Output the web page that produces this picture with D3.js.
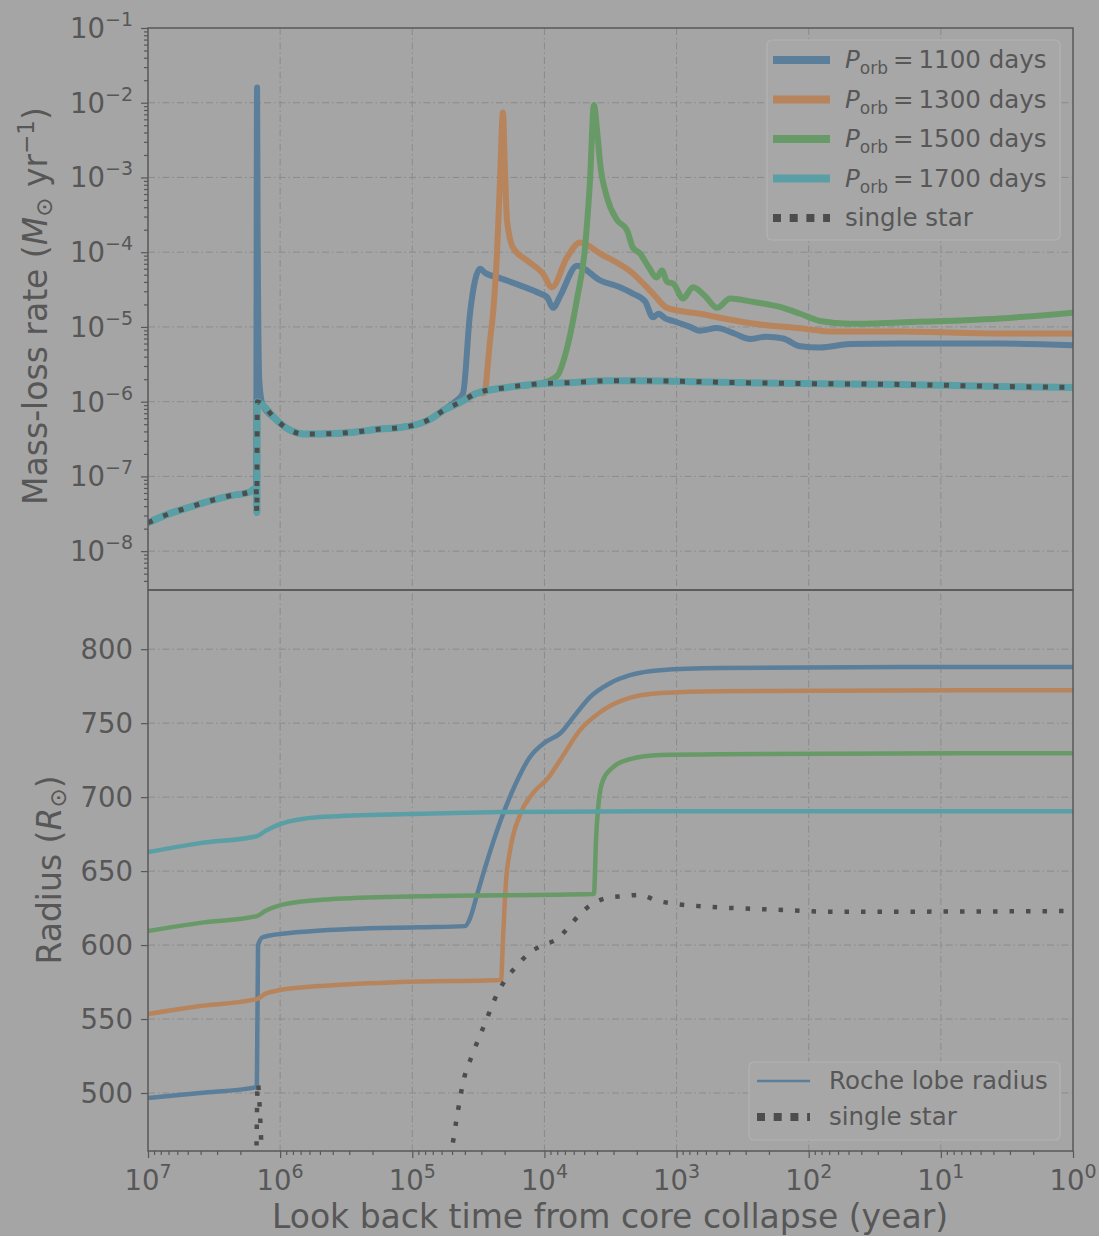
<!DOCTYPE html>
<html>
<head>
<meta charset="utf-8">
<script src="https://cdn.jsdelivr.net/npm/d3@7"></script>
<style>
  html, body { margin: 0; padding: 0; background: #a5a5a5; }
  svg { display: block; font-family: "DejaVu Sans", sans-serif; }
</style>
</head>
<body>
<svg id="chart" width="1099" height="1236"></svg>
<script>
// ---- data, [look back time in yr, value] ----
// track shared by the single star and the 1700 day model (they overlap)
const baseRate = [
  [1e7, 2.4e-8], [6.8e6, 3.2e-8], [4.8e6, 3.9e-8], [3.4e6, 4.7e-8], [2.4e6, 5.5e-8],
  [1.7e6, 6.2e-8], [1.52e6, 7e-8], [1.5e6, 3.3e-8], [1.49e6, 1.0e-6], [1.35e6, 8.9e-7],
  [1.09e6, 5.9e-7], [8.9e5, 4.4e-7], [6.7e5, 3.7e-7], [5.0e5, 3.7e-7], [2.8e5, 3.9e-7],
  [1.75e5, 4.3e-7], [1.24e5, 4.5e-7], [8.75e4, 5.1e-7], [7.0e4, 6.1e-7], [5.85e4, 7.6e-7],
  [4.35e4, 9.8e-7], [3.24e4, 1.3e-6], [1.92e4, 1.55e-6], [1.08e4, 1.74e-6], [6.1e3, 1.8e-6],
  [3.4e3, 1.9e-6], [1.9e3, 1.9e-6], [1.06e3, 1.88e-6], [374, 1.8e-6], [116, 1.75e-6],
  [20, 1.7e-6], [3.6, 1.6e-6], [1, 1.55e-6]
];

// the 1100 day model's first mass-transfer spike (replaces the dip of the shared track)
const spike1100 = [[1.495e6, 1.6e-2], [1.48e6, 2e-4], [1.44e6, 2e-6], [1.38e6, 1.0e-6]];

// mass-loss rate after each binary model leaves the shared track
const rate1100Tail = [
  [4.75e4, 1.0e-6], [4.13e4, 1.3e-6], [3.66e4, 1.5e-5], [3.35e4, 4.2e-5], [3.07e4, 6.0e-5],
  [2.82e4, 5.3e-5], [2.17e4, 4.5e-5], [1.53e4, 3.6e-5], [1.08e4, 2.8e-5], [9.55e3, 2.5e-5],
  [8.6e3, 1.8e-5], [7.6e3, 2.6e-5], [5.66e3, 6.6e-5], [3.79e3, 4.2e-5], [2.68e3, 3.4e-5],
  [2.14e3, 2.8e-5], [1.73e3, 2.2e-5], [1.51e3, 1.35e-5], [1.37e3, 1.5e-5], [1.22e3, 1.3e-5],
  [1.06e3, 1.2e-5], [791, 1.0e-5], [665, 8.9e-6], [494, 9.7e-6], [361, 8.1e-6],
  [278, 6.9e-6], [210, 7.4e-6], [156, 7.0e-6], [116, 5.5e-6], [82, 5.3e-6],
  [48.6, 5.9e-6], [20.4, 6.0e-6], [3.56, 6.0e-6], [1, 5.7e-6]
];
const rate1300Tail = [
  [2.86e4, 1.3e-6], [2.58e4, 6.6e-6], [2.45e4, 1.5e-5], [2.28e4, 1.05e-4], [2.17e4, 9.1e-4],
  [2.06e4, 7.4e-3], [1.99e4, 1.25e-3], [1.92e4, 2.7e-4], [1.73e4, 1.15e-4], [1.36e4, 7.8e-5],
  [1.03e4, 5.2e-5], [8.77e3, 3.4e-5], [6.75e3, 8.5e-5], [5.38e3, 1.35e-4], [3.79e3, 9.6e-5],
  [2.14e3, 5.2e-5], [1.51e3, 2.8e-5], [1.18e3, 1.8e-5], [665, 1.5e-5], [374, 1.23e-5],
  [207, 1.05e-5], [116, 9.6e-6], [69, 8.7e-6], [20.4, 8.7e-6], [3.56, 8.2e-6], [1, 8.2e-6]
];
const rate1500Tail = [
  [8.04e3, 2.2e-6], [6.75e3, 5.2e-6], [5.66e3, 2.4e-5], [4.93e3, 1.15e-4], [4.52e3, 9.1e-4],
  [4.22e3, 9.3e-3], [4.0e3, 4.3e-3], [3.79e3, 1.55e-3], [3.36e3, 5.4e-4], [2.82e3, 2.7e-4],
  [2.37e3, 1.96e-4], [2.14e3, 1.15e-4], [1.89e3, 9.6e-5], [1.65e3, 6.6e-5], [1.41e3, 4.6e-5],
  [1.29e3, 5.7e-5], [1.18e3, 4.0e-5], [1.06e3, 3.8e-5], [894, 2.4e-5], [751, 3.4e-5],
  [609, 2.6e-5], [494, 1.8e-5], [394, 2.4e-5], [278, 2.2e-5], [156, 1.8e-5],
  [116, 1.5e-5], [82, 1.2e-5], [48.6, 1.1e-5], [20.4, 1.15e-5], [3.56, 1.3e-5], [1, 1.55e-5]
];
// where each model leaves the shared track
const splitTime = { 1100: 4.8e4, 1300: 2.9e4, 1500: 8.5e3 };

// radius panel (R_sun)
const radius1100 = [
  [1e7, 496.6], [4.04e6, 500], [1.5e6, 504], [1.47e6, 600], [1.35e6, 605.4], [7.08e5, 608.8],
  [2.96e5, 610.8], [8.75e4, 612], [3.99e4, 612.8], [3.66e4, 618], [3.24e4, 633.8], [2.82e4, 652],
  [2.17e4, 683], [1.67e4, 708], [1.29e4, 727], [9.91e3, 737], [7.62e3, 743], [5.87e3, 755.4],
  [4.52e3, 767.6], [3.19e3, 777], [2.25e3, 782.4], [1.33e3, 785.8], [469, 787.2], [20.4, 788], [1, 788]
];
const radius1300 = [
  [1e7, 553.4], [4.04e6, 558.8], [1.5e6, 563.5], [1.3e6, 567], [1e6, 569.6], [4.99e5, 572.3],
  [1.24e5, 575], [2.13e4, 576.4], [2.06e4, 603.4], [1.95e4, 644], [1.82e4, 664], [1.53e4, 688],
  [1.22e4, 702.7], [9.4e3, 712.8], [7.36e3, 727], [5.38e3, 745.3], [3.79e3, 757.4],
  [2.46e3, 766], [1.33e3, 770.3], [469, 771.6], [1, 772.3]
];
const radius1500 = [
  [1e7, 609.5], [4.04e6, 615], [1.5e6, 619.6], [1.3e6, 623], [9.19e5, 627.7], [4.2e5, 631],
  [8.75e4, 633], [4.22e3, 634.5], [4.07e3, 671], [3.87e3, 698], [3.6e3, 711.5], [3.08e3, 719.6],
  [2.25e3, 725.7], [1.33e3, 728.4], [469, 729], [1, 729.7]
];
const radius1700 = [
  [1e7, 662.8], [4.04e6, 668.9], [1.5e6, 673.6], [1.3e6, 677], [1e6, 681.8], [4.99e5, 686.5],
  [1.24e5, 688.5], [2.17e4, 689.9], [1.63e3, 690.5], [1, 690.5]
];
const radiusSingle = [
  [1.6e6, 420], [1.52e6, 450], [1.48e6, 507], [1.33e6, 440], [1.0e6, 420], [6.0e4, 420],
  [5.1e4, 458], [4.59e4, 484], [4.13e4, 507], [3.47e4, 527], [2.82e4, 547], [2.25e4, 568],
  [1.92e4, 578], [1.61e4, 586], [1.33e4, 594], [1.03e4, 600], [8.04e3, 604], [6.64e3, 611.5],
  [5.38e3, 621], [4.29e3, 628], [3.3e3, 632], [2.54e3, 633], [1.89e3, 634], [1.41e3, 630],
  [1.06e3, 628], [589, 626], [186, 624], [61, 622.5], [1, 623]
];

const periods = [1100, 1300, 1500, 1700];
const colors = ["#5b7e9a", "#b8845c", "#679a67", "#5a9fa5"];
const xMajors = [1e7, 1e6, 1e5, 1e4, 1e3, 1e2, 1e1, 1];
const rateMajors = [1e-8, 1e-7, 1e-6, 1e-5, 1e-4, 1e-3, 1e-2, 1e-1];
const radiusTicks = [500, 550, 600, 650, 700, 750, 800];

// ---- build series ----
function joinTrack(period, tail, extra = [], skip = [0, 0]) {
  return baseRate
    .filter((d) => d[0] > splitTime[period] && !(d[0] >= skip[0] && d[0] <= skip[1]))
    .concat(extra, tail)
    .sort((a, b) => b[0] - a[0]);
}
const rateSeries = [
  joinTrack(1100, rate1100Tail, spike1100, [1.36e6, 1.51e6]),
  joinTrack(1300, rate1300Tail),
  joinTrack(1500, rate1500Tail),
  baseRate,
];
const radiusSeries = [radius1100, radius1300, radius1500, radius1700];

// ---- layout ----
const plotLeft = 148, plotRight = 1073, plotTop = 28, plotMid = 590, plotBottom = 1151;
const textColor = "#575757";
const axisColor = "#585858";
const gridColor = "#8b8b8b";

const x = d3.scaleLog().domain([1e7, 1]).range([plotLeft, plotRight]);
const yRate = d3.scaleLog().domain([Math.pow(10, -8.52), 1e-1]).range([plotMid, plotTop]);
const yRad = d3.scaleLinear().domain([460.8, 840]).range([plotBottom, plotMid]);

const svg = d3.select("#chart");
svg.append("rect").attr("width", 1099).attr("height", 1236).attr("fill", "#a5a5a5");

const defs = svg.append("defs");
defs.append("clipPath").attr("id", "clipTop")
  .append("rect").attr("x", plotLeft).attr("y", plotTop)
  .attr("width", plotRight - plotLeft).attr("height", plotMid - plotTop);
defs.append("clipPath").attr("id", "clipBot")
  .append("rect").attr("x", plotLeft).attr("y", plotMid)
  .attr("width", plotRight - plotLeft).attr("height", plotBottom - plotMid);

// grid
const grid = svg.append("g")
  .attr("stroke", gridColor).attr("stroke-width", 1).attr("stroke-dasharray", "7,3,1.5,3").attr("fill", "none");
xMajors.slice(1, -1).forEach((t) => {
  grid.append("line").attr("x1", x(t)).attr("x2", x(t)).attr("y1", plotTop).attr("y2", plotBottom);
});
rateMajors.slice(0, -1).forEach((v) => {
  grid.append("line").attr("x1", plotLeft).attr("x2", plotRight).attr("y1", yRate(v)).attr("y2", yRate(v));
});
radiusTicks.forEach((v) => {
  grid.append("line").attr("x1", plotLeft).attr("x2", plotRight).attr("y1", yRad(v)).attr("y2", yRad(v));
});

// lines
const rateLine = d3.line().curve(d3.curveMonotoneX).x((d) => x(d[0])).y((d) => yRate(d[1]));
const radLine = d3.line().curve(d3.curveMonotoneX).x((d) => x(d[0])).y((d) => yRad(d[1]));

const gTop = svg.append("g").attr("clip-path", "url(#clipTop)");
rateSeries.forEach((data, i) => {
  gTop.append("path").attr("d", rateLine(data)).attr("fill", "none")
    .attr("stroke", colors[i]).attr("stroke-width", i === 3 ? 7 : 6)
    .attr("stroke-linejoin", "round");
});
gTop.append("path").attr("d", rateLine(baseRate)).attr("fill", "none")
  .attr("stroke", "#4d4d4d").attr("stroke-width", 5).attr("stroke-dasharray", "5,11.5");

const gBot = svg.append("g").attr("clip-path", "url(#clipBot)");
radiusSeries.forEach((data, i) => {
  gBot.append("path").attr("d", radLine(data)).attr("fill", "none")
    .attr("stroke", colors[i]).attr("stroke-width", 4.5)
    .attr("stroke-linejoin", "round");
});
gBot.append("path").attr("d", radLine(radiusSingle)).attr("fill", "none")
  .attr("stroke", "#4d4d4d").attr("stroke-width", 4.5).attr("stroke-dasharray", "4.5,12");

// ---- axes ----
function minorsBetween(lo, hi) {
  const out = [];
  for (let k = lo; k <= hi; k++) for (let m = 2; m <= 9; m++) out.push(m * Math.pow(10, k));
  return out;
}
function styleAxis(g) {
  g.select(".domain").remove();
  g.selectAll("line").attr("stroke", axisColor).attr("stroke-width", 1.2);
}

svg.append("g").attr("transform", `translate(${plotLeft},0)`)
  .call(d3.axisLeft(yRate).tickValues(rateMajors).tickSize(7).tickFormat(""))
  .call(styleAxis);
svg.append("g").attr("transform", `translate(${plotLeft},0)`)
  .call(d3.axisLeft(yRate)
    .tickValues(minorsBetween(-9, -2).filter((v) => v >= yRate.domain()[0]))
    .tickSize(4).tickFormat(""))
  .call(styleAxis);
svg.append("g").attr("transform", `translate(${plotLeft},0)`)
  .call(d3.axisLeft(yRad).tickValues(radiusTicks).tickSize(7).tickFormat(""))
  .call(styleAxis);
svg.append("g").attr("transform", `translate(0,${plotBottom})`)
  .call(d3.axisBottom(x).tickValues(xMajors).tickSize(7).tickFormat(""))
  .call(styleAxis);
svg.append("g").attr("transform", `translate(0,${plotBottom})`)
  .call(d3.axisBottom(x).tickValues(minorsBetween(0, 6)).tickSize(4).tickFormat(""))
  .call(styleAxis);

function powerText(sel, exp) {
  sel.append("tspan").text("10");
  sel.append("tspan").attr("dy", -12).attr("font-size", 19)
    .text(exp < 0 ? "\u2212" + -exp : String(exp));
}

const labels = svg.append("g").attr("fill", textColor).attr("font-size", 27.5);
rateMajors.forEach((v) => {
  labels.append("text").attr("x", 133).attr("y", yRate(v) + 10).attr("text-anchor", "end")
    .call(powerText, Math.round(Math.log10(v)));
});
radiusTicks.forEach((v) => {
  labels.append("text").attr("x", 133).attr("y", yRad(v) + 10).attr("text-anchor", "end").text(v);
});
xMajors.forEach((t) => {
  labels.append("text").attr("x", Math.min(x(t), 1073)).attr("y", 1190).attr("text-anchor", "middle")
    .call(powerText, Math.round(Math.log10(t)));
});

// frames
svg.append("rect").attr("x", plotLeft).attr("y", plotTop)
  .attr("width", plotRight - plotLeft).attr("height", plotMid - plotTop)
  .attr("fill", "none").attr("stroke", axisColor).attr("stroke-width", 1.5);
svg.append("rect").attr("x", plotLeft).attr("y", plotMid)
  .attr("width", plotRight - plotLeft).attr("height", plotBottom - plotMid)
  .attr("fill", "none").attr("stroke", axisColor).attr("stroke-width", 1.5);

// axis titles
const titles = svg.append("g").attr("fill", textColor).attr("font-size", 33);
titles.append("text").attr("x", 610).attr("y", 1228).attr("text-anchor", "middle")
  .text("Look back time from core collapse (year)");

const yt1 = titles.append("text").attr("text-anchor", "middle")
  .attr("transform", "translate(47,306) rotate(-90)");
yt1.append("tspan").text("Mass-loss rate (");
yt1.append("tspan").attr("font-style", "italic").text("M");
yt1.append("tspan").attr("font-size", 23).attr("dy", 5).text("\u2299");
yt1.append("tspan").attr("dy", -5).text(" yr");
yt1.append("tspan").attr("font-size", 23).attr("dy", -13).text("\u22121");
yt1.append("tspan").attr("dy", 13).text(")");

const yt2 = titles.append("text").attr("text-anchor", "middle")
  .attr("transform", "translate(61,870) rotate(-90)");
yt2.append("tspan").text("Radius (");
yt2.append("tspan").attr("font-style", "italic").text("R");
yt2.append("tspan").attr("font-size", 23).attr("dy", 5).text("\u2299");
yt2.append("tspan").attr("dy", -5).text(")");

// ---- legends ----
const leg1 = svg.append("g");
leg1.append("rect").attr("x", 767).attr("y", 40).attr("width", 293).attr("height", 200).attr("rx", 5)
  .attr("fill", "#a7a7a7").attr("stroke", "#b3b3b3").attr("stroke-width", 1.2);
periods.forEach((p, i) => {
  const yy = 60 + i * 39.5;
  leg1.append("line").attr("x1", 773).attr("x2", 830).attr("y1", yy).attr("y2", yy)
    .attr("stroke", colors[i]).attr("stroke-width", 8);
  const t = leg1.append("text").attr("x", 845).attr("y", yy + 8).attr("fill", textColor).attr("font-size", 24.5);
  t.append("tspan").attr("font-style", "italic").text("P");
  t.append("tspan").attr("font-size", 17).attr("dy", 6).text("orb");
  t.append("tspan").attr("dy", -6).attr("dx", 5).text("=");
  t.append("tspan").attr("dx", 5).text(`${p} days`);
});
leg1.append("line").attr("x1", 773).attr("x2", 830).attr("y1", 218).attr("y2", 218)
  .attr("stroke", "#4d4d4d").attr("stroke-width", 8).attr("stroke-dasharray", "8,8.7");
leg1.append("text").attr("x", 845).attr("y", 226).attr("fill", textColor).attr("font-size", 24.5)
  .text("single star");

const leg2 = svg.append("g");
leg2.append("rect").attr("x", 749).attr("y", 1062).attr("width", 311).attr("height", 78).attr("rx", 5)
  .attr("fill", "#a7a7a7").attr("stroke", "#b3b3b3").attr("stroke-width", 1.2);
leg2.append("line").attr("x1", 757).attr("x2", 810).attr("y1", 1081).attr("y2", 1081)
  .attr("stroke", colors[0]).attr("stroke-width", 2.5);
leg2.append("text").attr("x", 829).attr("y", 1089).attr("fill", textColor).attr("font-size", 24.5)
  .text("Roche lobe radius");
leg2.append("line").attr("x1", 757).attr("x2", 810).attr("y1", 1117).attr("y2", 1117)
  .attr("stroke", "#4d4d4d").attr("stroke-width", 8).attr("stroke-dasharray", "8,8.7");
leg2.append("text").attr("x", 829).attr("y", 1125).attr("fill", textColor).attr("font-size", 24.5)
  .text("single star");
</script>
</body>
</html>
